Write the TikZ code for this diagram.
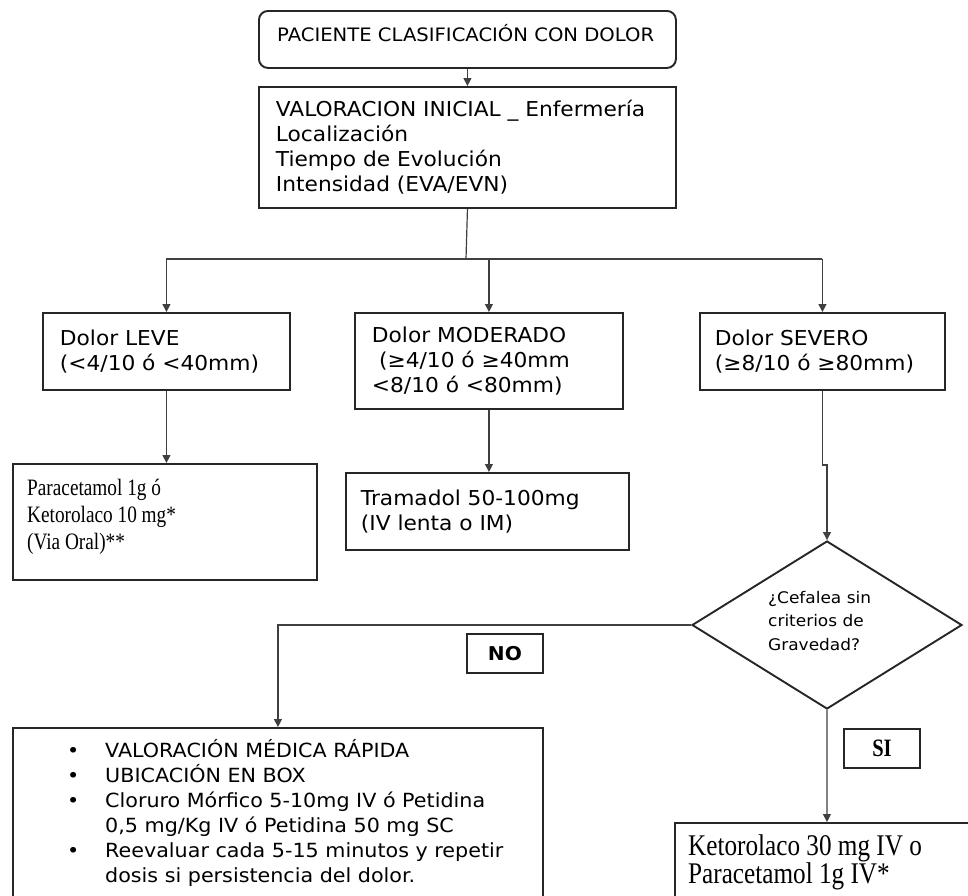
\documentclass[tikz,border=0pt]{standalone}
\usepackage{fontspec}
\setmainfont[FakeStretch=1.06]{DejaVu Sans}
\newfontfamily\serifnt[FakeStretch=0.82]{Liberation Serif}
\newfontfamily\serifwide[FakeStretch=0.84]{Liberation Serif}
\usetikzlibrary{arrows.meta,shapes.geometric}
\begin{document}
\begin{tikzpicture}[x=1pt,y=-1pt,
  box/.style={draw=black!85, line width=1.9pt, rectangle, inner ysep=0pt, align=left, anchor=north west, font=\fontsize{20.5}{25}\selectfont},
  frame/.style={draw=black!85, line width=1.9pt, rectangle, inner sep=0pt, anchor=north west},
  lbl/.style={draw=black!85, line width=1.9pt, rectangle, inner sep=0pt, anchor=north west, align=center},
  txt/.style={inner sep=0pt, align=left},
  sertxt/.style={txt, anchor=base west},
  conn/.style={draw=black!75, line width=1.2pt},
  arr/.style={conn, -{Triangle[length=8pt,width=8pt]}}]
\useasboundingbox (0,0) rectangle (968,895);
\fill[white] (0,0) rectangle (968,895);
\begin{scope}
\clip (0,0) rectangle (968,895);

% top box
\node[frame, rounded corners=9pt, minimum width=417pt, minimum height=57pt] (top) at (258,10) {};
\node[txt, anchor=west, font=\fontsize{18.5}{22}\selectfont] (toptxt) at (277,33) {PACIENTE CLASIFICACIÓN CON DOLOR};

% valoracion
\node[box, minimum width=417pt, minimum height=121pt, text width=383pt, inner xsep=17pt] (val) at (258,86)
  {VALORACION INICIAL \_ Enfermería\\Localización\\Tiempo de Evolución\\Intensidad (EVA/EVN)};

% levels
\node[box, minimum width=247pt, minimum height=77pt, text width=213pt, inner xsep=17pt] (leve) at (42,312)
  {Dolor LEVE\\(<4/10 ó <40mm)};
\node[box, minimum width=268pt, minimum height=96pt, text width=234pt, inner xsep=17pt] (mod) at (354,312)
  {Dolor MODERADO\\\hspace*{0.35em}(≥4/10 ó ≥40mm\\<8/10 ó <80mm)};
\node[box, minimum width=245pt, minimum height=77pt, text width=215pt, inner xsep=15pt] (sev) at (699,312)
  {Dolor SEVERO\\(≥8/10 ó ≥80mm)};

% treatments
\node[frame, minimum width=304pt, minimum height=116pt] (para) at (12,463) {};
\node[sertxt, font=\serifnt\fontsize{23.5}{26.7}\selectfont] (paratxt) at (27,549) {Paracetamol 1g ó\\Ketorolaco 10 mg*\\(Via Oral)**};
\node[box, minimum width=283pt, minimum height=77pt, text width=253pt, inner xsep=15pt] (tram) at (345,472)
  {Tramadol 50-100mg\\(IV lenta o IM)};

% decision
\node[diamond, draw=black!85, line width=1.9pt, minimum width=270pt, minimum height=168pt, inner sep=0pt] (dia) at (827,625) {};
\node[txt, anchor=west, font=\fontsize{16}{23.5}\selectfont] (diatxt) at (768,621) {¿Cefalea sin\\criterios de\\Gravedad?};

% labels
\node[lbl, minimum width=76pt, minimum height=39pt, font=\bfseries\fontsize{19}{22}\selectfont] (no) at (466,633) {NO};
\node[lbl, minimum width=76pt, minimum height=39pt, font=\serifnt\bfseries\fontsize{25}{26}\selectfont] (si) at (843,728) {SI};

% bottom boxes
\node[frame, minimum width=530pt, minimum height=220pt] (big) at (12,727) {};
\node[txt, anchor=base west, font=\fontsize{19.5}{25}\selectfont] (bigtxt) at (67,757)
  {\begin{tabular}[t]{@{}l@{}l@{}}
   \makebox[38pt][l]{\textbullet} & VALORACIÓN MÉDICA RÁPIDA\\
   \makebox[38pt][l]{\textbullet} & UBICACIÓN EN BOX\\
   \makebox[38pt][l]{\textbullet} & Cloruro Mórfico 5-10mg IV ó Petidina\\
   & 0,5 mg/Kg IV ó Petidina 50 mg SC\\
   \makebox[38pt][l]{\textbullet} & Reevaluar cada 5-15 minutos y repetir\\
   & dosis si persistencia del dolor.
   \end{tabular}};
\node[frame, minimum width=304pt, minimum height=110pt] (keto) at (674,822) {};
\node[sertxt, font=\serifwide\fontsize{30}{28}\selectfont] (ketotxt) at (688,883) {Ketorolaco 30 mg IV o\\Paracetamol 1g IV*};

% connectors
\coordinate (split) at (466,259);
\draw[arr] (top.south) -- (val.north);
\draw[conn] (val.south) -- (split);
\draw[conn] (leve.north |- split) -- (sev.north |- split);
\draw[arr] (leve.north |- split) -- (leve.north);
\draw[arr] (mod.north |- split) -- (mod.north);
\draw[arr] (sev.north |- split) -- (sev.north);
\draw[arr] (leve.south) -- (leve.south |- para.north);
\draw[arr] (mod.south) -- (mod.south |- tram.north);
\draw[arr] (sev.south) -- ++(0,74) -| (dia.north);
\draw[arr] (dia.west) -| (big.north);
\draw[arr] (dia.south) -- (keto.north);
\end{scope}
\end{tikzpicture}
\end{document}
